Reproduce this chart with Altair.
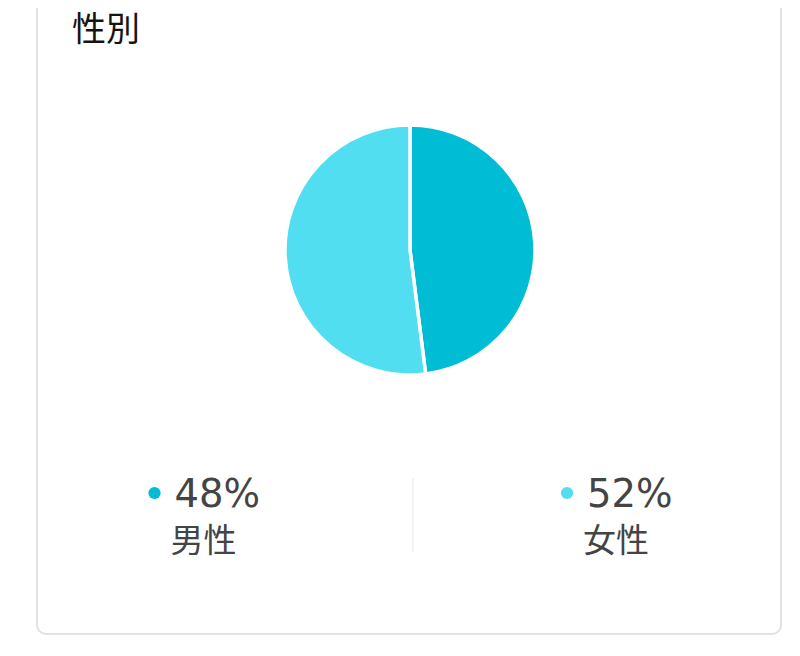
import altair as alt
import pandas as pd

# ---- data ----
categories = ["男性", "女性"]
shares = [48, 52]
colors = ["#00BCD5", "#50DEF0"]
title_text = "性別"

df = pd.DataFrame({"category": categories, "share": shares, "order": list(range(len(categories)))})
df["label"] = [f"{v}%" for v in shares]

one = pd.DataFrame({"k": [0]})

W, H = 784, 640
CJK = "Noto Sans CJK JP"

color_enc = alt.Color("category:N", scale=alt.Scale(domain=categories, range=colors), legend=None)
x_leg = alt.X("category:N", scale=alt.Scale(type="point", domain=categories, range=[146.5, 559], padding=0), axis=None)

card = alt.Chart(one).mark_rect(
    fill="white", stroke="#e2e2e2", strokeWidth=2, cornerRadius=9
).encode(x=alt.value(29), x2=alt.value(773), y=alt.value(-30), y2=alt.value(626))

title = alt.Chart(one).mark_text(
    text=title_text, font=CJK, fontSize=34, color="#141414", align="left", baseline="alphabetic"
).encode(x=alt.value(64), y=alt.value(33))

pie = alt.Chart(df).mark_arc(
    x=402, y=242, outerRadius=125, stroke="white", strokeWidth=3.5
).encode(
    theta=alt.Theta("share:Q", stack=True),
    color=color_enc,
    order=alt.Order("order:Q"),
)

dots = alt.Chart(df).mark_circle(size=150, opacity=1).encode(
    x=x_leg, y=alt.value(485), color=color_enc
)

pct = alt.Chart(df).mark_text(
    align="left", baseline="alphabetic", dx=20, font="DejaVu Sans", fontSize=38.5, color="#444444"
).encode(x=x_leg, y=alt.value(498.5), text="label:N")

cat = alt.Chart(df).mark_text(
    align="left", baseline="alphabetic", dx=16, font=CJK, fontSize=33, color="#444444"
).encode(x=x_leg, y=alt.value(544), text="category:N")

divider = alt.Chart(one).mark_rule(color="#e6e6e6", strokeWidth=1).encode(
    x=alt.value(405), y=alt.value(470), y2=alt.value(544)
)

chart = alt.layer(card, title, pie, divider, dots, pct, cat).properties(
    width=W, height=H, autosize=alt.AutoSizeParams(type="none"), padding=0, background="white"
).configure_view(stroke=None)

chart.save("out.html", embed_options={"renderer": "svg", "actions": False})
